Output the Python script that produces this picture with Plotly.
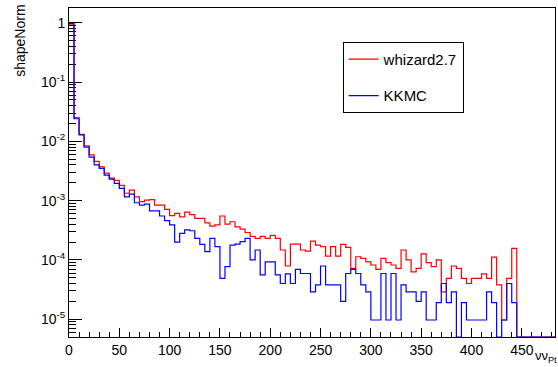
import numpy as np
import plotly.graph_objects as go

# Binning: 5-unit bins from 0 to 485
bin_width = 5
n_bins = 97
x_max = 483

# Normalised shapes (values per bin, starting at 0)
whizard = [
    0.95, 0.025, 0.0131, 0.0084, 0.0059, 0.0046, 0.0037, 0.0029, 0.0024, 0.0022,
    0.0018, 0.00133, 0.0015, 0.00116, 0.00096, 0.00102, 0.00104, 0.00084, 0.00084, 0.00071,
    0.00056, 0.00061, 0.00053, 0.00064, 0.00058, 0.00050, 0.00050, 0.00042, 0.00037, 0.00039,
    0.00055, 0.00040, 0.00044, 0.00036, 0.00033, 0.00029, 0.00025, 0.00023, 0.00025, 0.00023,
    0.00026, 0.00023, 0.000147, 0.000079, 0.000185, 0.000185, 0.000147, 0.000141, 0.000208, 0.000178,
    0.000167, 0.000116, 0.000167, 0.000116, 0.000183, 0.000163, 0.000072, 0.000113, 0.000106, 0.000093,
    0.000082, 0.000069, 0.000106, 0.000090, 0.000082, 0.000072, 0.000147, 0.000100, 0.000063, 0.000072,
    0.000126, 0.000090, 0.000077, 0.000100, 0.000029, 0.000049, 0.000079, 0.000072, 0.000049, 0.000040,
    0.000049, 0.000049, 0.000058, 0.000049, 0.000111, 0.000038, 0.0000097, 0.000049, 0.000157,
]
kkmc = [
    0.97, 0.024, 0.0128, 0.0080, 0.0054, 0.0040, 0.0035, 0.0027, 0.0023, 0.00196,
    0.00161, 0.00116, 0.00129, 0.00092, 0.00084, 0.00087, 0.00067, 0.00067, 0.00055, 0.00046,
    0.00039, 0.00020, 0.00028, 0.00032, 0.00031, 0.00023, 0.000183, 0.000138, 0.00023, 0.000167,
    0.000049, 0.000077, 0.000178, 0.000185, 0.000204, 0.00023, 0.00010, 0.000147, 0.000056, 0.000093,
    0.000093, 0.000056, 0.000040, 0.000058, 0.000040, 0.000069, 0.000059, 0.000059, 0.000029, 0.000038,
    0.000079, 0.000038, 0.000038, 0.000038, 0.000020, 0.000059, 0.000069, 0.000059, 0.000038, 0.000029,
    0.0000097, 0.0000097, 0.000059, 0.0000097, 0.000059, 0.0000097, 0.000038, 0.000029, 0.000029, 0.000020,
    0.000029, 0.0000097, 0.0000097, 0.000019, 0.000040, 0.000019, 0.000029, 0.0, 0.000019, 0.0000097,
    0.0000097, 0.0000097, 0.0000097, 0.000029, 0.000019, 0.0, 0.0000097, 0.000040, 0.000019,
]

y_log_range = [-5.30, 0.248]
x_tick_vals = list(range(0, 451, 50))
y_tick_vals = [1e-5, 1e-4, 1e-3, 1e-2, 1e-1, 1]
y_tick_text = ["10<sup>-5</sup>", "10<sup>-4</sup>", "10<sup>-3</sup>",
               "10<sup>-2</sup>", "10<sup>-1</sup>", "1"]

edges = np.arange(n_bins + 1) * bin_width
floor = 10 ** y_log_range[0]


def step_xy(values):
    v = np.zeros(n_bins)
    v[:len(values)] = values
    v = np.where(v > 0, v, floor)  # empty bins sit on the bottom of the frame
    return edges, np.append(v, v[-1])


fig = go.Figure()
for name, vals, color in [("whizard2.7", whizard, "#ff0000"),
                          ("KKMC", kkmc, "#0000ff")]:
    xs, ys = step_xy(vals)
    fig.add_trace(go.Scatter(
        x=xs, y=ys, mode="lines", name=name, legendgroup=name,
        line=dict(color=color, width=1.2, shape="hv"),
    ))

minor_y = [m * 10.0 ** e for e in range(-6, 1) for m in range(2, 10)]

font = "Liberation Sans, Arial, sans-serif"
fig.update_layout(
    width=558, height=367,
    margin=dict(l=69, r=3, t=8, b=30),
    paper_bgcolor="white", plot_bgcolor="white",
    font=dict(family=font, size=14, color="black"),
    showlegend=True,
    legend=dict(
        x=0.563, y=0.897, xanchor="left", yanchor="top",
        bordercolor="black", borderwidth=1, bgcolor="white",
        font=dict(size=15), traceorder="grouped", tracegroupgap=14,
        itemwidth=30,
    ),
    xaxis=dict(
        range=[0, x_max], showgrid=False, zeroline=False,
        showline=True, mirror=True, linecolor="black", linewidth=1,
        ticks="inside", tickvals=x_tick_vals, ticklen=9, tickcolor="black",
        minor=dict(dtick=10, tick0=0, ticks="inside", ticklen=5, tickcolor="black"),
        tickfont=dict(size=14), layer="below traces",
    ),
    yaxis=dict(
        type="log", range=y_log_range, showgrid=False, zeroline=False,
        showline=True, mirror=True, linecolor="black", linewidth=1,
        ticks="inside", tickvals=y_tick_vals, ticktext=y_tick_text,
        ticklen=13, tickcolor="black",
        minor=dict(tickvals=minor_y, ticks="inside", ticklen=7, tickcolor="black"),
        tickfont=dict(size=14), layer="below traces",
    ),
    annotations=[
        dict(text="shapeNorm", textangle=-90, xref="paper", yref="paper",
             x=-0.1, y=1.017, xanchor="center", yanchor="top",
             showarrow=False, font=dict(size=14)),
        dict(text="νν<sub>Pt</sub>", xref="paper", yref="paper",
             x=1.006, y=-0.088, xanchor="right", yanchor="bottom",
             showarrow=False, font=dict(size=13), borderpad=0),
    ],
)

fig.write_html("out.html")
